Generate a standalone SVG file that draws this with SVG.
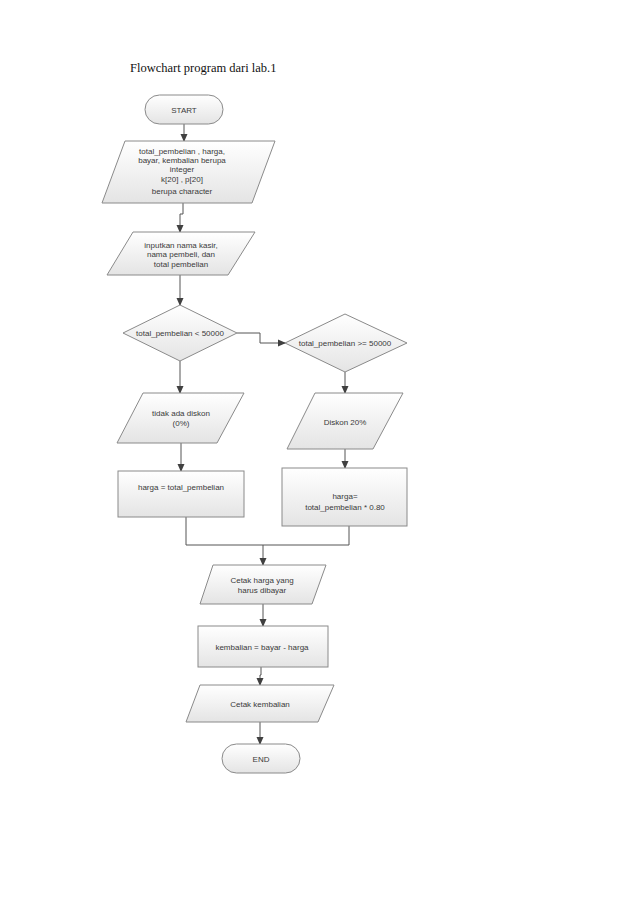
<svg xmlns="http://www.w3.org/2000/svg" width="638" height="903" viewBox="0 0 638 903">
<defs>
<linearGradient id="g" x1="0" y1="0" x2="0" y2="1">
<stop offset="0" stop-color="#ffffff"/>
<stop offset="1" stop-color="#e4e4e4"/>
</linearGradient>
<marker id="arr" markerWidth="8" markerHeight="8" refX="7" refY="4" orient="auto" markerUnits="userSpaceOnUse">
<path d="M0,0.5 L8,4 L0,7.5 Z" fill="#404040"/>
</marker>
</defs>
<style>
.s{fill:url(#g);stroke:#8a8a8a;stroke-width:1}
.t{font-family:"Liberation Sans",Arial,sans-serif;font-size:8px;fill:#3a3a3a;text-anchor:middle}
.c{fill:none;stroke:#555;stroke-width:1}
.c2{fill:none;stroke:#555;stroke-width:1;marker-end:url(#arr)}
</style>
<rect width="638" height="903" fill="#fff"/>
<text x="130" y="72" font-family="Liberation Serif,Times New Roman,serif" font-size="12.5" fill="#111">Flowchart program dari lab.1</text>
<g id="connectors">
<path class="c2" d="M184,124 V141"/>
<path class="c2" d="M183,203 V214 H180 V232"/>
<path class="c2" d="M180,275 V305"/>
<path class="c2" d="M237,333 H260 V343 H285"/>
<path class="c2" d="M345,372 V393"/>
<path class="c2" d="M345,449 V468"/>
<path class="c2" d="M180,361 V393"/>
<path class="c2" d="M181,443 V471"/>
<path class="c" d="M186,517 V545 H349 V526"/>
<path class="c2" d="M263,545 V565"/>
<path class="c2" d="M263,604 V626"/>
<path class="c2" d="M261,667 V675 H260 V685"/>
<path class="c2" d="M260,722 V744"/>
</g>
<g id="start">
<rect class="s" x="145" y="95" width="78" height="29" rx="14.5"/>
<text class="t" x="184" y="112.5" font-size="7.5">START</text>
</g>
<g id="declare">
<polygon class="s" points="125,141 275,141 252,203 102,203"/>
<text class="t" x="182" y="154">total_pembelian , harga,</text>
<text class="t" x="182" y="163">bayar, kembalian berupa</text>
<text class="t" x="182" y="172">integer</text>
<text class="t" x="182" y="182">k[20] , p[20]</text>
<text class="t" x="182" y="194">berupa character</text>
</g>
<g id="input">
<polygon class="s" points="133,232 255,232 228,275 107,275"/>
<text class="t" x="181" y="248">inputkan nama kasir,</text>
<text class="t" x="181" y="257">nama pembeli, dan</text>
<text class="t" x="181" y="267">total pembelian</text>
</g>
<g id="cond1">
<polygon class="s" points="180,305 237,333 180,361 123,333"/>
<text class="t" x="180" y="336" font-size="7.5">total_pembelian &lt; 50000</text>
</g>
<g id="cond2">
<polygon class="s" points="345,314 407,343 345,372 285,343"/>
<text class="t" x="345" y="346" font-size="7.5">total_pembelian &gt;= 50000</text>
</g>
<g id="nodisc">
<polygon class="s" points="143,393 244,393 217,443 117,443"/>
<text class="t" x="181" y="416">tidak ada diskon</text>
<text class="t" x="181" y="426">(0%)</text>
</g>
<g id="disc">
<polygon class="s" points="315,393 403,393 373,449 287,449"/>
<text class="t" x="345" y="425">Diskon 20%</text>
</g>
<g id="harga1">
<rect class="s" x="118" y="471" width="126" height="46"/>
<text class="t" x="181" y="490">harga = total_pembelian</text>
</g>
<g id="harga2">
<rect class="s" x="282" y="468" width="125" height="58"/>
<text class="t" x="345" y="499" font-size="9.5">harga=</text>
<text class="t" x="345" y="510" font-size="9.5">total_pembelian * 0.80</text>
</g>
<g id="print1">
<polygon class="s" points="213,565 326,565 312,604 200,604"/>
<text class="t" x="262" y="583">Cetak harga yang</text>
<text class="t" x="262" y="593">harus dibayar</text>
</g>
<g id="kembalian">
<rect class="s" x="198" y="626" width="130" height="41"/>
<text class="t" x="262" y="650">kembalian = bayar - harga</text>
</g>
<g id="print2">
<polygon class="s" points="200,685 334,685 318,722 186,722"/>
<text class="t" x="260" y="707">Cetak kembalian</text>
</g>
<g id="end">
<rect class="s" x="222" y="744" width="78" height="29" rx="14.5"/>
<text class="t" x="261" y="761.5" font-size="7.5">END</text>
</g>
</svg>
